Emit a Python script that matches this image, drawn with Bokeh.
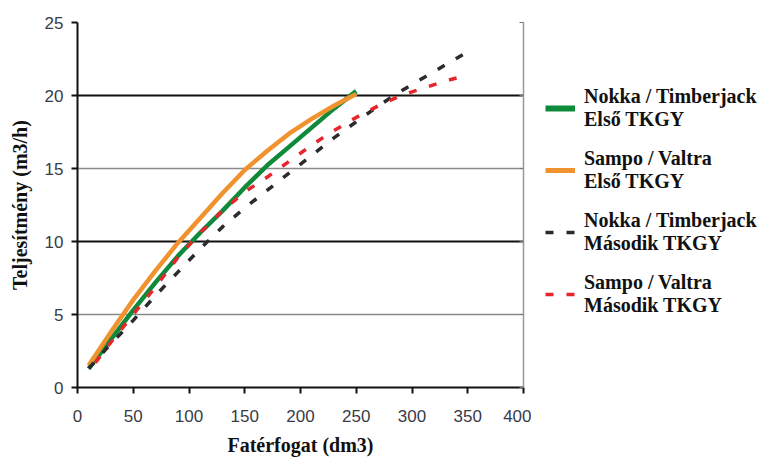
from bokeh.plotting import figure
from bokeh.layouts import row
from bokeh.models import (Range1d, LinearAxis, Grid, FixedTicker, Legend, LegendItem)
from bokeh.embed import file_html
from bokeh.resources import INLINE

# ---- data ----
x_nokka1 = [10, 30, 50, 70, 90, 110, 130, 150, 170, 190, 210, 230, 250]
y_nokka1 = [1.3, 3.3, 5.3, 7.2, 9.0, 10.6, 12.1, 13.7, 15.2, 16.5, 17.8, 19.1, 20.3]

x_sampo1 = [10, 30, 50, 70, 90, 110, 130, 150, 170, 190, 210, 230, 250]
y_sampo1 = [1.5, 3.8, 6.0, 8.0, 9.9, 11.6, 13.3, 14.9, 16.2, 17.4, 18.4, 19.3, 20.1]

x_nokka2 = [10, 30, 50, 70, 90, 110, 130, 150, 170, 190, 210, 230, 250, 270, 290, 310, 330, 350]
y_nokka2 = [1.3, 3.0, 4.6, 6.3, 7.9, 9.5, 11.0, 12.3, 13.5, 14.7, 15.9, 17.1, 18.2, 19.3, 20.3, 21.2, 22.1, 23.0]

x_sampo2 = [10, 30, 50, 70, 90, 110, 130, 150, 170, 190, 210, 230, 250, 270, 290, 310, 330, 340]
y_sampo2 = [1.1, 3.1, 5.0, 6.9, 8.9, 10.6, 12.1, 13.4, 14.4, 15.5, 16.6, 17.6, 18.5, 19.3, 20.0, 20.5, 21.0, 21.2]

labels = ["Nokka / Timberjack\nElső TKGY", "Sampo / Valtra\nElső TKGY",
          "Nokka / Timberjack\nMásodik TKGY", "Sampo / Valtra\nMásodik TKGY"]

x_ticks = [0, 50, 100, 150, 200, 250, 300, 350, 400]
y_ticks = [0, 5, 10, 15, 20, 25]
y_grid_light = [5, 15, 25]
y_grid_dark = [10, 20]

SERIF = "Liberation Serif"
SANS = "Liberation Sans"

styles = [dict(line_color="#0e8a3a", line_width=4.5, line_join="round"),
          dict(line_color="#f0922e", line_width=4.5, line_join="round"),
          dict(line_color="#2b2b2b", line_width=3.5, line_dash="8 13"),
          dict(line_color="#e5262b", line_width=3.5, line_dash="8 13", line_dash_offset=10)]

p = figure(width=531, height=458,
           min_border_left=77, min_border_top=22, min_border_right=8, min_border_bottom=71,
           x_range=Range1d(0, 400), y_range=Range1d(0, 25),
           output_backend="svg", toolbar_location=None, outline_line_color=None)

p.xgrid.grid_line_color = None
p.ygrid.grid_line_color = None
p.add_layout(Grid(dimension=1, ticker=FixedTicker(ticks=y_grid_light),
                  grid_line_color="#8a8a8a", grid_line_width=1.5))
p.add_layout(Grid(dimension=1, ticker=FixedTicker(ticks=y_grid_dark),
                  grid_line_color="#111111", grid_line_width=2))

for ax in (p.xaxis[0], p.yaxis[0]):
    ax.axis_line_color = "#111111"
    ax.axis_line_width = 2
    ax.major_tick_line_color = "#111111"
    ax.major_tick_line_width = 2
    ax.major_tick_in = 0
    ax.major_tick_out = 6
    ax.minor_tick_line_color = None
    ax.major_label_text_font = SANS
    ax.major_label_text_font_size = "17px"
    ax.major_label_text_color = "#3a3a48"
    ax.axis_label_text_font = SERIF
    ax.axis_label_text_font_style = "bold"
    ax.axis_label_text_font_size = "20px"
    ax.axis_label_text_color = "#111111"

p.xaxis.ticker = FixedTicker(ticks=x_ticks)
p.yaxis.ticker = FixedTicker(ticks=y_ticks)
p.xaxis.axis_label = "Fatérfogat (dm3)"
p.yaxis.axis_label = "Teljesítmény (m3/h)"
p.xaxis.major_label_standoff = 16
p.xaxis.axis_label_standoff = 9
p.yaxis.major_label_standoff = 8
p.yaxis.axis_label_standoff = 11

right = LinearAxis(ticker=FixedTicker(ticks=y_ticks),
                   major_label_overrides={t: "" for t in y_ticks},
                   major_label_standoff=0,
                   axis_line_color="#999999", axis_line_width=1.5,
                   major_tick_line_color="#777777", major_tick_in=4, major_tick_out=0,
                   minor_tick_line_color=None)
p.add_layout(right, "right")

p.line(x_nokka1, y_nokka1, **styles[0])
p.line(x_sampo1, y_sampo1, **styles[1])
p.line(x_nokka2, y_nokka2, **styles[2])
p.line(x_sampo2, y_sampo2, **styles[3])

# legend panel (separate figure, glyph samples only; NaN data draws nothing in the frame)
lg = figure(width=236, height=458, min_border=0,
            x_axis_type=None, y_axis_type=None,
            x_range=Range1d(0, 1), y_range=Range1d(0, 1),
            output_backend="svg", toolbar_location=None, outline_line_color=None)
lg.xgrid.grid_line_color = None
lg.ygrid.grid_line_color = None
nan = float("nan")
lrs = [lg.line([nan], [nan], **s) for s in styles]
lrs[0].glyph.line_width = 6
lrs[1].glyph.line_width = 5
lrs[3].glyph.line_dash_offset = 0
legend = Legend(items=[LegendItem(label=lab, renderers=[r]) for lab, r in zip(labels, lrs)],
                location=(14, 70), padding=0, margin=0, spacing=16,
                glyph_width=30, glyph_height=20, label_standoff=9,
                label_text_font=SERIF, label_text_font_style="bold",
                label_text_font_size="20px", label_text_color="#111111",
                border_line_color=None, background_fill_alpha=0)
lg.add_layout(legend)

open("out.html", "w").write(file_html(row(p, lg, spacing=0), INLINE))
